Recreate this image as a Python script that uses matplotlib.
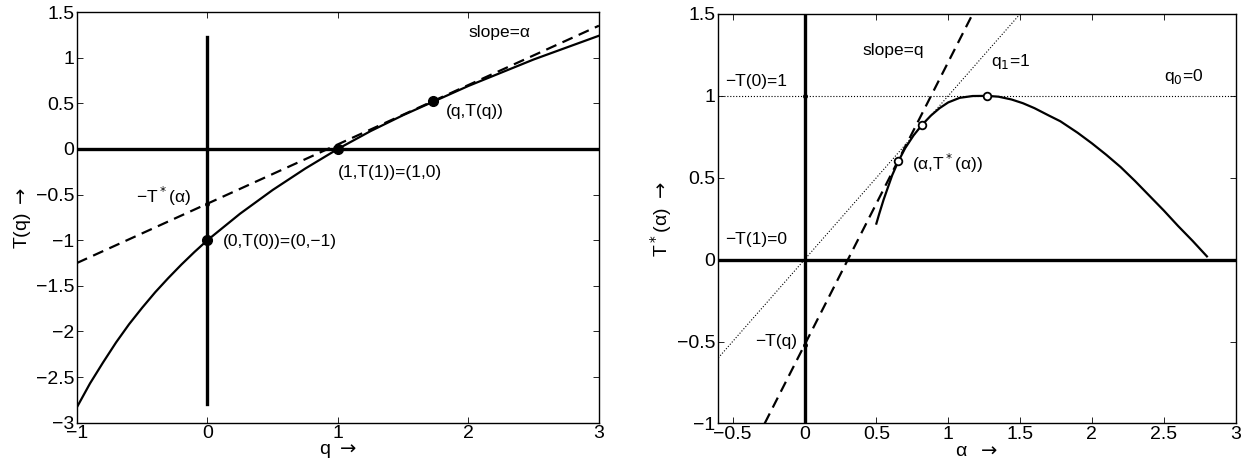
import matplotlib
matplotlib.use('Agg')
import matplotlib.pyplot as plt
import numpy as np

plt.rcParams['font.family'] = ['Liberation Sans', 'DejaVu Sans']
plt.rcParams['mathtext.fontset'] = 'dejavusans'

# T(q)
q = [-1, -0.9, -0.8, -0.7, -0.6, -0.5, -0.4, -0.3, -0.2, -0.1, 0,
     0.25, 0.5, 0.75, 1, 1.25, 1.5, 1.75, 2, 2.5, 3]
Tq = [-2.83, -2.57, -2.34, -2.12, -1.92, -1.74, -1.57, -1.415, -1.268, -1.13, -1.0,
      -0.71, -0.45, -0.215, 0.0, 0.195, 0.37, 0.53, 0.69, 0.98, 1.24]

# tangent (slope = alpha) through (q, T(q))
tan_q = [-1, 3]
tan_T = [-1.25, 1.35]

# marked points on T(q)
pts_q = [0, 1, 1.73]
pts_T = [-1.0, 0.0, 0.52]
icept_T = -0.6      # -T*(alpha)
vline_T = [-2.8, 1.23]

# T*(alpha)
alpha = [0.5, 0.52, 0.55, 0.58, 0.61, 0.65, 0.7, 0.76, 0.82, 0.88, 0.94, 1.0, 1.08, 1.17,
         1.27, 1.35, 1.44, 1.52, 1.6, 1.7, 1.78, 1.9, 2.0, 2.1, 2.2, 2.3, 2.4, 2.5,
         2.6, 2.7, 2.8]
Tstar = [0.22, 0.28, 0.365, 0.44, 0.515, 0.595, 0.68, 0.76, 0.825, 0.88, 0.925, 0.96, 0.988, 0.999,
         1.0, 0.995, 0.978, 0.955, 0.925, 0.88, 0.845, 0.775, 0.71, 0.64, 0.565, 0.48, 0.39, 0.30,
         0.205, 0.115, 0.02]

# tangent with slope q on the right
tan_a = [-0.277, 1.17]
tan_S = [-1.0, 1.5]
diag_a = [-0.6, 1.5]      # q1 = 1 line
circ_a = [0.65, 0.82, 1.27]
circ_S = [0.6, 0.82, 1.0]
dots_S = [1.0, -0.52]

fig = plt.figure(figsize=(12.47, 4.69), dpi=100)
ax1 = fig.add_axes([0.0617, 0.0987, 0.4186, 0.8757])
ax2 = fig.add_axes([0.576, 0.0972, 0.4149, 0.8730])

fs_tick = 14
fs_txt = 12.5

## LEFT: T(q)
ax1.axhline(0, color='k', lw=2.4)
ax1.plot([0, 0], vline_T, color='k', lw=2.4)
ax1.plot(tan_q, tan_T, '--', color='k', lw=1.6, dashes=(5, 3))
ax1.plot(q, Tq, color='k', lw=1.6)
ax1.plot(pts_q, pts_T, 'o', color='k', ms=7)
ax1.plot([0], [icept_T], 'o', color='k', ms=2.5)

ax1.text(2.0, 1.28, 'slope=α', fontsize=fs_txt, va='center')
ax1.text(1.83, 0.41, '(q,T(q))', fontsize=fs_txt, va='center')
ax1.text(1.0, -0.26, '(1,T(1))=(1,0)', fontsize=fs_txt, va='center')
ax1.text(0.117, -1.01, '(0,T(0))=(0,−1)', fontsize=fs_txt, va='center')
ax1.text(-0.13, -0.52, '−T$^*$(α)', fontsize=fs_txt, va='center', ha='right')

ax1.set_xlim(-1, 3)
ax1.set_ylim(-3, 1.5)
ax1.set_xticks(np.arange(-1, 3.5, 1))
ax1.set_yticks(np.arange(-3, 1.75, 0.5))
ax1.set_yticklabels(['−3', '−2.5', '−2', '−1.5', '−1', '−0.5', '0', '0.5', '1', '1.5'])
ax1.set_xlabel(r'q $\rightarrow$', fontsize=fs_tick, labelpad=0)
ax1.set_ylabel(r'T(q) $\rightarrow$', fontsize=fs_tick, labelpad=2)

## RIGHT: T*(alpha)
ax2.axhline(0, color='k', lw=2.4)
ax2.axvline(0, color='k', lw=2.4)
ax2.axhline(1, color='k', lw=0.8, ls=':')
ax2.plot(diag_a, diag_a, ':', color='k', lw=0.8)
ax2.plot(tan_a, tan_S, '--', color='k', lw=1.6, dashes=(5, 3))
ax2.plot(alpha, Tstar, color='k', lw=1.6)
ax2.plot(circ_a, circ_S, 'o', mfc='white', mec='k', mew=1.3, ms=5.5)
ax2.plot([0, 0], dots_S, 'o', color='k', ms=2.5)

ax2.text(0.4, 1.28, 'slope=q', fontsize=fs_txt, va='center')
ax2.text(-0.55, 1.09, '−T(0)=1', fontsize=fs_txt, va='center')
ax2.text(1.30, 1.21, 'q$_1$=1', fontsize=fs_txt, va='center')
ax2.text(2.5, 1.12, 'q$_0$=0', fontsize=fs_txt, va='center')
ax2.text(0.75, 0.59, '(α,T$^*$(α))', fontsize=fs_txt, va='center')
ax2.text(-0.55, 0.12, '−T(1)=0', fontsize=fs_txt, va='center')
ax2.text(-0.05, -0.5, '−T(q)', fontsize=fs_txt, va='center', ha='right')

ax2.set_xlim(-0.6, 3)
ax2.set_ylim(-1, 1.5)
ax2.set_xticks(np.arange(-0.5, 3.25, 0.5))
ax2.set_xticklabels(['−0.5', '0', '0.5', '1', '1.5', '2', '2.5', '3'])
ax2.set_yticks(np.arange(-1, 1.75, 0.5))
ax2.set_yticklabels(['−1', '−0.5', '0', '0.5', '1', '1.5'])
ax2.set_xlabel(r'α  $\rightarrow$', fontsize=fs_tick, labelpad=0)
ax2.set_ylabel(r'T$^*$(α) $\rightarrow$', fontsize=fs_tick, labelpad=2)

for ax in (ax1, ax2):
    ax.tick_params(direction='in', top=True, right=True, length=4, width=0.6,
                   labelsize=fs_tick, pad=2)
    for s in ax.spines.values():
        s.set_linewidth(1.0)

fig.savefig('out.png', dpi=100)
